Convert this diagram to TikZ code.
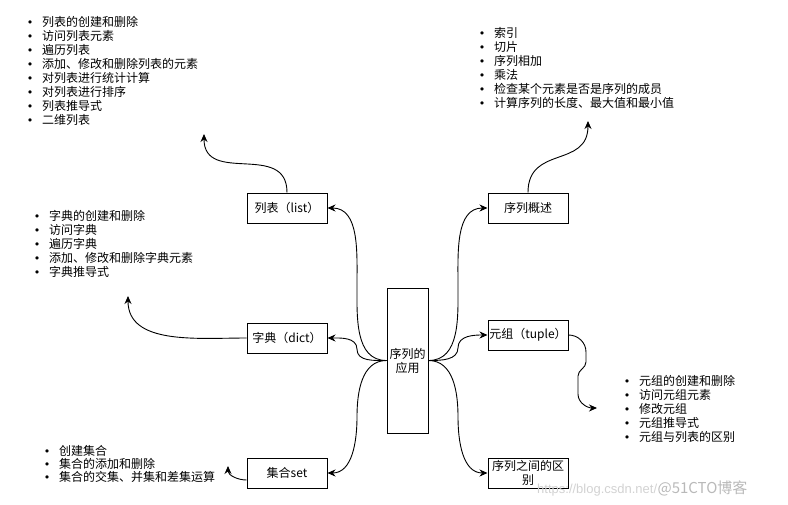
\documentclass[tikz,border=0pt]{standalone}
\usepackage{fontspec}
\setmainfont{Noto Sans CJK SC}
\newfontfamily\wmfont{Liberation Sans}
\newfontfamily\dotfont{DejaVu Sans}
\usetikzlibrary{positioning}
\usetikzlibrary{calc}
\usetikzlibrary{arrows.meta}
\newcommand\bul{\makebox[24pt][c]{\dotfont\fontsize{11}{11}\selectfont •}}
\tikzset{
  topic/.style={draw, rectangle, fill=white, line width=1pt, minimum width=80pt, minimum height=30pt, inner sep=1pt, align=center, font=\fontsize{12}{14}\selectfont},
  info/.style={anchor=north west, inner sep=0pt, align=left, font=\fontsize{12}{14}\selectfont},
  link/.style={-{Stealth[length=8pt,width=7pt]}, line width=0.9pt}
}
\begin{document}
\begin{tikzpicture}[x=1pt, y=-1pt]
  \useasboundingbox (0,0) rectangle (788,504);

  % main box and topics
  \node[topic, minimum width=41pt, minimum height=145pt] (app) at (407.5,360.5) {序列的\\应用};
  \node[topic] (list) at (287,208) {列表（list）};
  \node[topic] (dict) at (287,338) {字典（dict）};
  \node[topic] (set) at (287,473) {集合set};
  \node[topic] (seq) at (528,208) {序列概述};
  \node[topic] (tuple) at (528,335) {元组（tuple）};
  \node[topic] (diff) at (528,473) {序列之间的区\\别};

  % bullet lists
  \node[info] (listinfo) at (18,16) {\bul 列表的创建和删除\\ \bul 访问列表元素\\ \bul 遍历列表\\ \bul 添加、修改和删除列表的元素\\ \bul 对列表进行统计计算\\ \bul 对列表进行排序\\ \bul 列表推导式\\ \bul 二维列表};
  \node[info] (seqinfo) at (470,27) {\bul 索引\\ \bul 切片\\ \bul 序列相加\\ \bul 乘法\\ \bul 检查某个元素是否是序列的成员\\ \bul 计算序列的长度、最大值和最小值};
  \node[info] (dictinfo) at (25,210) {\bul 字典的创建和删除\\ \bul 访问字典\\ \bul 遍历字典\\ \bul 添加、修改和删除字典元素\\ \bul 字典推导式};
  \node[info] (tupleinfo) at (615,375) {\bul 元组的创建和删除\\ \bul 访问元组元素\\ \bul 修改元组\\ \bul 元组推导式\\ \bul 元组与列表的区别};
  \node[info, font=\fontsize{12}{13}\selectfont] (setinfo) at (35,445) {\bul 创建集合\\ \bul 集合的添加和删除\\ \bul 集合的交集、并集和差集运算};

  % free arrow ends
  \coordinate (listtip) at (204,134);
  \coordinate (seqtip) at (588,121);
  \coordinate (dicttip) at (128,296);
  \coordinate (settip) at (228,466);
  \coordinate (tupletip) at (597,408);

  % from the main box
  \draw[link] (app.west) to[out=180,in=270] ($(app.west)!0.5!(list.east)$) to[out=90,in=0] (list.east);
  \draw[link] (app.west) to[out=180,in=270] ($(app.west)!0.5!(dict.east)$) to[out=90,in=0] (dict.east);
  \draw[link] (app.west) to[out=180,in=90] ($(app.west)!0.5!(set.east)$) to[out=270,in=0] (set.east);
  \draw[link] (app.east) to[out=0,in=270] ($(app.east)!0.5!(seq.west)$) to[out=90,in=180] (seq.west);
  \draw[link] (app.east) to[out=0,in=270] ($(app.east)!0.5!(tuple.west)$) to[out=90,in=180] (tuple.west);
  \draw[link] (app.east) to[out=0,in=90] ($(app.east)!0.5!(diff.west)$) to[out=270,in=180] (diff.west);

  % to the lists
  \draw[link] (list.north) to[out=90,in=270, looseness=1.3] (listtip);
  \draw[link] (seq.north) to[out=90,in=270, looseness=1.3] (seqtip);
  \draw[link] (dict.west) to[out=180,in=270] (dicttip);
  \draw[link] ([yshift=-7pt]set.west) to[out=180,in=270] (settip);
  \draw[link] (tuple.east) to[out=0,in=90] (586,352) -- (586,362) to[out=270,in=90] (578,376) -- (578,394) to[out=270,in=180] (tupletip);

  % watermark
  \node[anchor=base west, inner sep=0pt, text=gray!35, font=\wmfont\fontsize{13}{13}\selectfont] (wmurl) at (537,493) {https://blog.csdn.net/};
  \node[anchor=base west, inner sep=0pt, text=gray!55, font=\fontsize{15}{15}\selectfont] (wmsite) at (wmurl.base east) {@51CTO博客};
\end{tikzpicture}
\end{document}
